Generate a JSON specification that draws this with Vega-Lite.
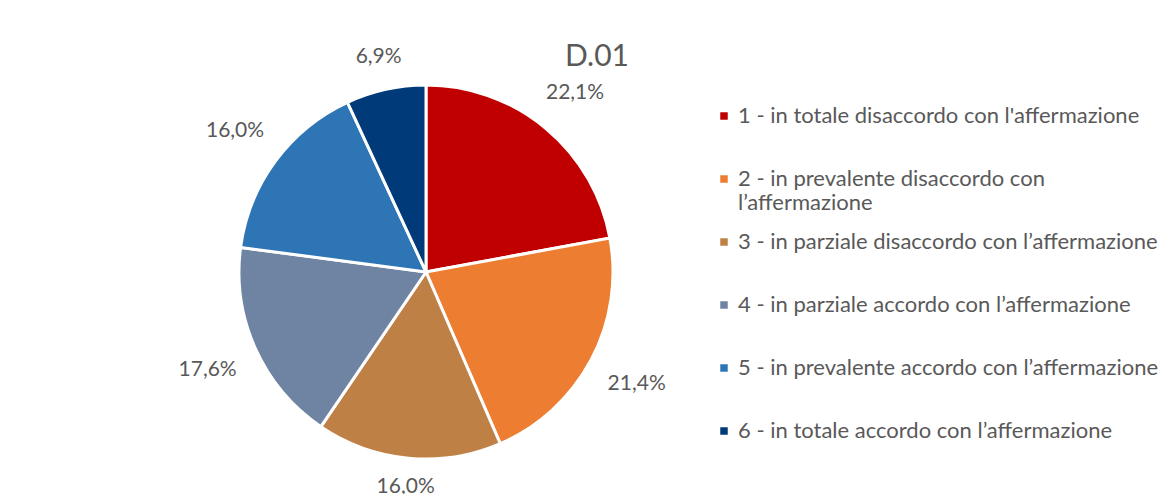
{
  "$schema": "https://vega.github.io/schema/vega-lite/v6.json",
  "autosize": "none",
  "width": 374,
  "height": 374,
  "padding": {"left": 239, "top": 85, "right": 560, "bottom": 35},
  "background": "white",
  "config": {
    "view": {"stroke": null},
    "font": "Lato",
    "locale": {"number": {"decimal": ",", "thousands": ".", "grouping": [3], "currency": ["€", ""]}}
  },
  "title": {
    "text": "D.01",
    "anchor": "middle",
    "frame": "group",
    "dx": 171,
    "offset": -26,
    "fontSize": 30,
    "fontWeight": "normal",
    "color": "#595959",
    "font": "Lato"
  },
  "data": {
    "values": [
      {"categoria": "1 - in totale disaccordo con l'affermazione", "valore": 0.221},
      {"categoria": "2 - in prevalente disaccordo con l’affermazione", "valore": 0.214},
      {"categoria": "3 - in parziale disaccordo con l’affermazione", "valore": 0.160},
      {"categoria": "4 - in parziale accordo con l’affermazione", "valore": 0.176},
      {"categoria": "5 - in prevalente accordo con l’affermazione", "valore": 0.160},
      {"categoria": "6 - in totale accordo con l’affermazione", "valore": 0.069}
    ]
  },
  "encoding": {
    "theta": {"field": "valore", "type": "quantitative", "stack": true},
    "order": {"field": "categoria", "type": "nominal", "sort": "ascending"},
    "color": {
      "field": "categoria",
      "type": "nominal",
      "sort": null,
      "scale": {
        "domain": [
          "1 - in totale disaccordo con l'affermazione",
          "2 - in prevalente disaccordo con l’affermazione",
          "3 - in parziale disaccordo con l’affermazione",
          "4 - in parziale accordo con l’affermazione",
          "5 - in prevalente accordo con l’affermazione",
          "6 - in totale accordo con l’affermazione"
        ],
        "range": ["#C00000", "#ED7D31", "#BF8046", "#6F84A3", "#2E75B6", "#003A78"]
      },
      "legend": {
        "title": null,
        "orient": "none",
        "legendX": 474,
        "legendY": 20,
        "symbolType": "square",
        "symbolSize": 56,
        "symbolStrokeWidth": 0,
        "labelFont": "Lato",
        "labelFontSize": 22,
        "labelColor": "#595959",
        "labelLimit": 600,
        "labelOffset": 3,
        "rowPadding": 17,
        "labelExpr": "datum.label == '2 - in prevalente disaccordo con l’affermazione' ? ['2 - in prevalente disaccordo con', 'l’affermazione'] : [datum.label, '']"
      }
    }
  },
  "layer": [
    {
      "mark": {"type": "arc", "stroke": "white", "strokeWidth": 3}
    },
    {
      "mark": {
        "type": "text",
        "radius": {"expr": "205 + 34 * abs(sin(PI * (datum.valore_start + datum.valore_end))) + 8 * abs(cos(PI * (datum.valore_start + datum.valore_end)))"},
        "fontSize": 21,
        "font": "Lato",
        "color": "#595959"
      },
      "encoding": {
        "text": {"field": "valore", "type": "quantitative", "format": ".1%"},
        "color": {"value": "#595959"}
      }
    }
  ]
}
